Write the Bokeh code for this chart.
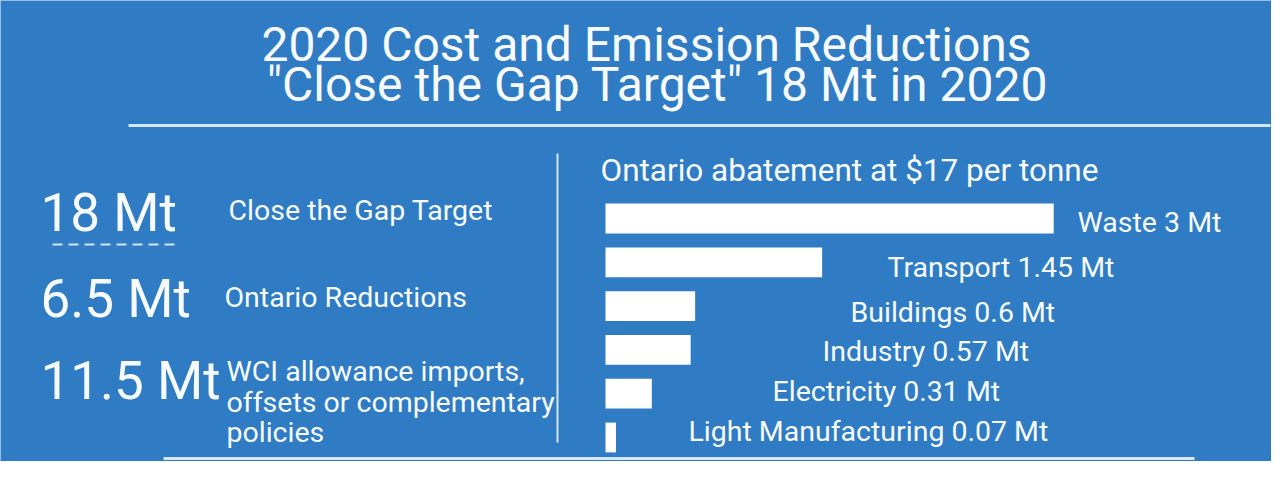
from bokeh.plotting import figure
from bokeh.models import Range1d
from bokeh.core.properties import value
from bokeh.embed import file_html
from bokeh.resources import INLINE

# ---------------- data ----------------
title_lines = ["2020 Cost and Emission Reductions",
               "\"Close the Gap Target\" 18 Mt in 2020"]
summary_values = [18, 6.5, 11.5]
summary_desc = [["Close the Gap Target"],
                ["Ontario Reductions"],
                ["WCI allowance imports,", "offsets or complementary", "policies"]]
chart_subtitle = "Ontario abatement at $17 per tonne"
sectors = ["Waste", "Transport", "Buildings", "Industry", "Electricity", "Light Manufacturing"]
abatement_mt = [3, 1.45, 0.6, 0.57, 0.31, 0.07]

# ---------------- layout / style ----------------
W, H = 1271, 461
BG = "#2F7CC4"
FG = "#F7FBFF"
LINE = "#D3E8F8"
FONT = value("Roboto")

BAR_X0 = 605          # px where 0 Mt sits
PX_PER_MT = 149.4
ROW0_Y = 218          # px of first bar centre
ROW_STEP = 43.8

p = figure(width=W, height=H, output_backend="svg", toolbar_location=None,
           x_range=Range1d(0, W), y_range=Range1d(H, 0),
           x_axis_type=None, y_axis_type=None, min_border=0,
           background_fill_color=BG, border_fill_color=BG, outline_line_color=None)
p.grid.visible = False

p.extra_x_ranges = {"mt": Range1d(-BAR_X0 / PX_PER_MT, (W - BAR_X0) / PX_PER_MT)}
p.extra_y_ranges = {"rows": Range1d((H - ROW0_Y) / ROW_STEP, -ROW0_Y / ROW_STEP)}

# title
p.text(x=[646, 657], y=[44, 84], text=title_lines, text_font=FONT, text_font_size="48px",
       text_color=FG, text_align="center", text_baseline="alphabetic")

# rules
p.line(x=[128, 1270], y=[125, 125], line_color=LINE, line_width=3)
p.line(x=[163, 1194], y=[458, 458], line_color=LINE, line_width=3)
p.line(x=[557, 557], y=[153, 442], line_color=LINE, line_width=2)
p.line(x=[52, 180], y=[244, 244], line_color=LINE, line_width=2, line_dash="10 6")

# left summary
num_y = [212, 298, 380]
p.text(x=[40] * 3, y=num_y, text=[f"{v:g} Mt" for v in summary_values], text_font=FONT,
       text_font_size="53px", text_color=FG, text_align="left", text_baseline="middle")
desc_x = [228, 224, 226]
desc_y0 = [210, 297, 371]
for i, lines in enumerate(summary_desc):
    p.text(x=[desc_x[i]] * len(lines), y=[desc_y0[i] + 30.5 * k for k in range(len(lines))],
           text=lines, text_font=FONT, text_font_size="28.5px", text_color=FG,
           text_align="left", text_baseline="middle")

# bar chart
p.text(x=[600], y=[170], text=[chart_subtitle], text_font=FONT, text_font_size="31.5px",
       text_color=FG, text_align="left", text_baseline="middle")
rows = list(range(len(sectors)))
p.hbar(y=rows, left=0, right=abatement_mt, height=0.68, fill_color="white", line_color=None,
       x_range_name="mt", y_range_name="rows")

label_x = [1077, 887, 850, 822, 772, 688]
label_y = [222, 267, 312, 351, 391, 431]
p.text(x=label_x, y=label_y, text=[f"{s} {v:g} Mt" for s, v in zip(sectors, abatement_mt)],
       text_font=FONT, text_font_size="28.5px", text_color=FG, text_align="left",
       text_baseline="middle")

open("out.html", "w").write(file_html(p, INLINE))
